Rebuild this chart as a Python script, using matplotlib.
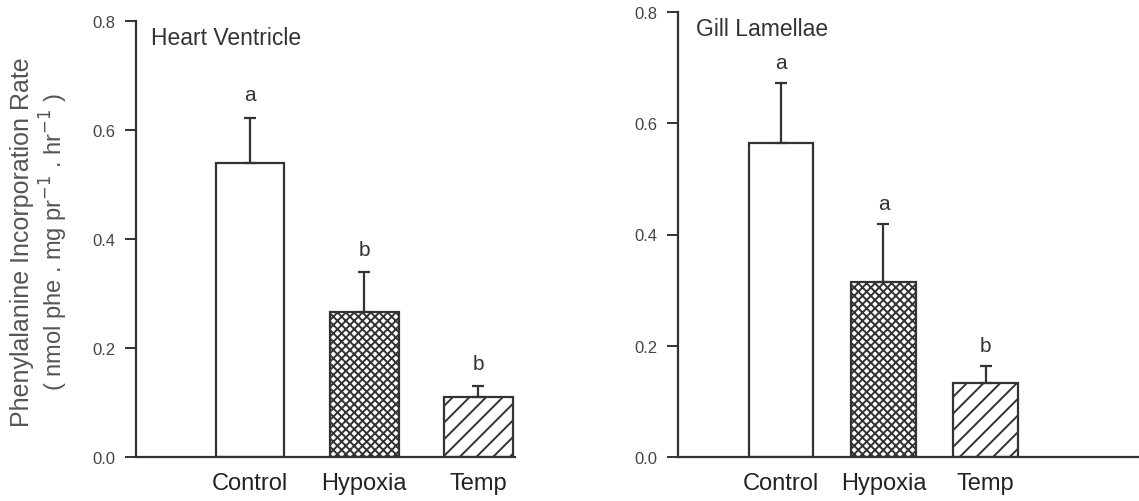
import matplotlib.pyplot as plt

plt.rcParams['font.family'] = ['Liberation Sans', 'DejaVu Sans']
plt.rcParams['hatch.linewidth'] = 1.4
plt.rcParams['hatch.color'] = '#333333'

groups = ['Control', 'Hypoxia', 'Temp']

heart_mean = [0.539, 0.266, 0.110]
heart_err = [0.083, 0.073, 0.020]
heart_sig = ['a', 'b', 'b']

gill_mean = [0.565, 0.315, 0.133]
gill_err = [0.108, 0.104, 0.031]
gill_sig = ['a', 'a', 'b']

hatches = ['', 'xxxx', '//']
ink = '#333333'

fig = plt.figure(figsize=(11.39, 5.02), dpi=100)
ax1 = fig.add_axes([136 / 1139, 1 - 458 / 502, (515 - 136) / 1139, (458 - 22) / 502])
ax2 = fig.add_axes([678 / 1139, 1 - 458 / 502, (1139 - 678) / 1139, (458 - 13) / 502])


def draw_panel(ax, means, errs, sig, title, width, xlim, title_y, sig_gap):
    x = range(len(groups))
    ax.bar(x, means, width=width, color='white', edgecolor=ink,
           linewidth=1.6, hatch=hatches, zorder=2)
    ax.errorbar(x, means, yerr=[[0] * len(errs), errs], fmt='none',
                ecolor=ink, elinewidth=1.6, capsize=4.5, capthick=1.6, zorder=3)
    for i, (m, e, s) in enumerate(zip(means, errs, sig)):
        ax.text(i, m + e + sig_gap, s, ha='center', va='bottom',
                fontsize=15, color=ink)
    ax.set_xlim(*xlim)
    ax.set_ylim(0, 0.8)
    ax.set_yticks([0.0, 0.2, 0.4, 0.6, 0.8])
    ax.set_yticklabels(['0.0', '0.2', '0.4', '0.6', '0.8'])
    ax.set_xticks(list(x))
    ax.set_xticklabels(groups, fontsize=17, color='#222222')
    ax.tick_params(axis='x', length=0, pad=11)
    ax.tick_params(axis='y', length=8, width=1.4, color=ink,
                   labelsize=12, labelcolor='#444444', pad=7)
    for side in ['top', 'right']:
        ax.spines[side].set_visible(False)
    for side in ['left', 'bottom']:
        ax.spines[side].set_linewidth(1.6)
        ax.spines[side].set_color(ink)
    ax.text(0.04, title_y, title, transform=ax.transAxes, fontsize=16.5,
            color='#333333', ha='left', va='center')


draw_panel(ax1, heart_mean, heart_err, heart_sig, 'Heart Ventricle',
           0.6, (-1.0, 2.32), 0.963, 0.025)
draw_panel(ax2, gill_mean, gill_err, gill_sig, 'Gill Lamellae',
           0.63, (-1.01, 3.5), 0.962, 0.02)

fig.text(22 / 1139, 1 - 242 / 502, 'Phenylalanine Incorporation Rate',
         rotation=90, ha='center', va='center', fontsize=18, color='#555555')
fig.text(54 / 1139, 1 - 242 / 502,
         r'( nmol phe . mg pr$^{-1}$ . hr$^{-1}$ )',
         rotation=90, ha='center', va='center', fontsize=17, color='#555555')

fig.savefig('out.png', dpi=100)
